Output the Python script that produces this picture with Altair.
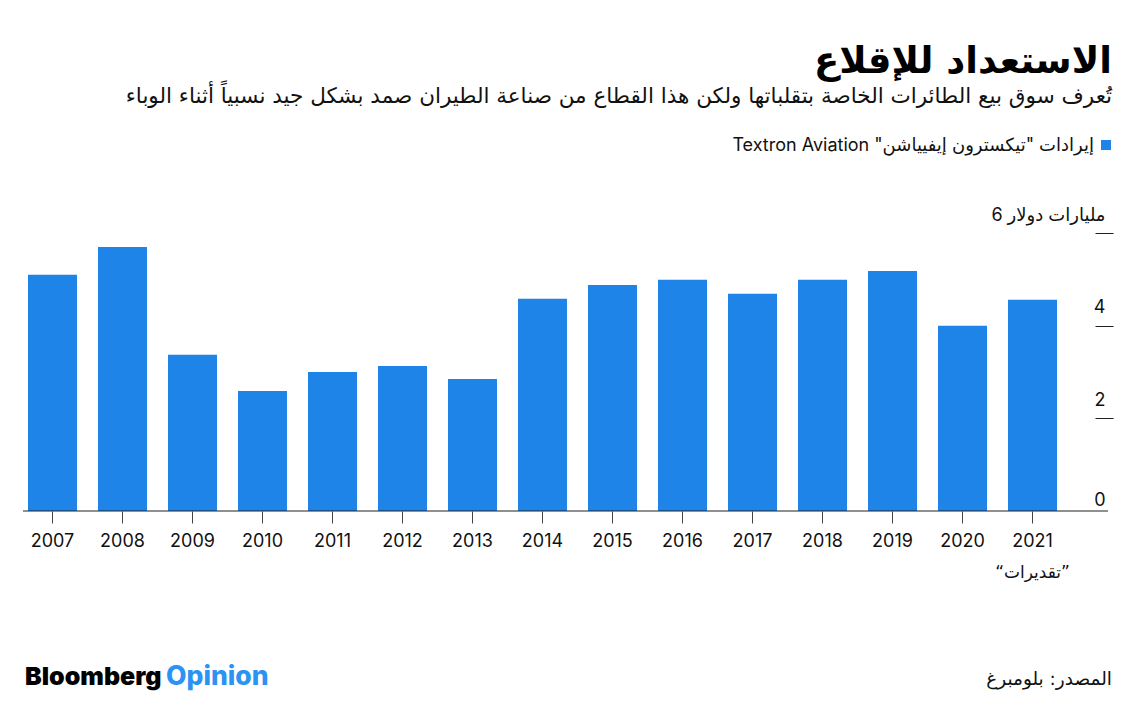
import altair as alt
import pandas as pd

years = ["2007", "2008", "2009", "2010", "2011", "2012", "2013", "2014",
         "2015", "2016", "2017", "2018", "2019", "2020", "2021"]
revenue = [5.10, 5.70, 3.37, 2.59, 3.00, 3.13, 2.85, 4.58,
           4.88, 4.99, 4.69, 4.99, 5.18, 4.00, 4.56]
y_ticks = [0, 2, 4, 6]
y_unit_label = "مليارات دولار 6"

title_text = "الاستعداد للإقلاع"
subtitle_text = "تُعرف سوق بيع الطائرات الخاصة بتقلباتها ولكن هذا القطاع من صناعة الطيران صمد بشكل جيد نسبياً أثناء الوباء"
legend_text = "\u2067إيرادات \"تيكسترون إيفيياشن\" Textron Aviation\u2069"
estimate_year = ["2021"]
estimate_text = ["\u2067”تقديرات“\u2069"]
source_text = "المصدر: بلومبرغ"

BLUE = "#1f84e8"
W, H = 1072, 278
LATIN = "Inter, 'DejaVu Sans'"
AR = "'DejaVu Sans'"

df = pd.DataFrame({"year": years, "revenue": revenue})

xscale = alt.Scale(domain=years, paddingInner=0.3, paddingOuter=0.307, align=0.116)
yscale = alt.Scale(domain=[0, 6], nice=False)

bars = alt.Chart(df).mark_bar(color=BLUE).encode(
    x=alt.X("year:N", scale=xscale, sort=years,
            axis=alt.Axis(title=None, domain=False, grid=False, tickSize=12, tickColor="#444",
                          tickWidth=1, labelFontSize=18, labelFont=LATIN,
                          labelColor="#111", labelPadding=9, labelAngle=0)),
    y=alt.Y("revenue:Q", scale=yscale,
            axis=alt.Axis(title=None, orient="right", values=y_ticks, domain=False,
                          grid=False, tickSize=18, tickColor="#222", tickWidth=1,
                          tickOpacity={"condition": {"test": "datum.value == 0", "value": 0}, "value": 1},
                          labelAlign="right", labelBaseline="alphabetic",
                          labelPadding=-8,
                          labelOffset={"condition": {"test": "datum.value == 0", "value": -6}, "value": -13},
                          labelFontSize=18, labelFont=LATIN, labelColor="#111",
                          labelExpr=f"datum.value == 6 ? '{y_unit_label}' : datum.label")),
)

baseline = alt.Chart(pd.DataFrame({"v": [0]})).mark_rule(color="#222", strokeWidth=1.2).encode(
    y=alt.Y("v:Q", scale=yscale),
    x=alt.value(0), x2=alt.value(W + 13),
)

est = alt.Chart(pd.DataFrame({"year": estimate_year, "t": estimate_text})).mark_text(
    fontSize=17, font=AR, color="#111", align="center", baseline="alphabetic"
).encode(
    x=alt.X("year:N", scale=xscale, sort=years),
    y=alt.value(345),
    text="t:N",
)

def label(text, x, y, size, align="right", weight="normal", color="#111", font=AR):
    return alt.Chart(pd.DataFrame({"t": [text]})).mark_text(
        fontSize=size, font=font, fontWeight=weight, color=color,
        align=align, baseline="alphabetic"
    ).encode(x=alt.value(x), y=alt.value(y), text="t:N")

title = label(title_text, 1089, -160, 37, weight="bold", color="#000")
subtitle = label(subtitle_text, 1089, -130, 21.5, color="#111")
legend_txt = label(legend_text, 1071, -82, 18, font=LATIN)
legend_sq = alt.Chart(pd.DataFrame({"s": [1]})).mark_square(
    color=BLUE, size=100, opacity=1
).encode(x=alt.value(1083), y=alt.value(-88))
source = label(source_text, 1089, 452, 18.5)
brand1 = label("Bloomberg", 2, 452, 25, align="left", weight=900, color="#000", font="Inter")
brand2 = label("Opinion", 143, 452, 26.5, align="left", weight=800, color="#2a93f3", font="Inter")

chart = alt.layer(
    bars, baseline, est, title, subtitle, legend_txt, legend_sq, source, brand1, brand2
).properties(
    width=W, height=H,
    background="white",
    autosize=alt.AutoSizeParams(type="none"),
    padding={"left": 15, "top": 225, "right": 34, "bottom": 192},
).configure_view(strokeWidth=0, stroke=None)

chart.save("out.html", embed_options={"renderer": "svg", "actions": False})
